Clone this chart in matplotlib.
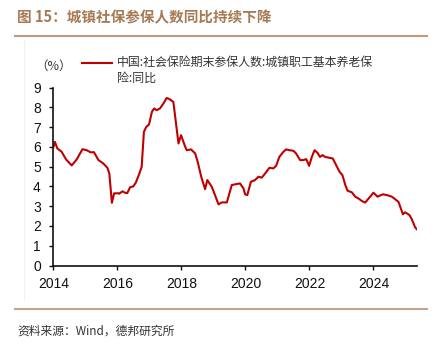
import matplotlib
matplotlib.use("Agg")
import matplotlib.pyplot as plt
from matplotlib.lines import Line2D

plt.rcParams['font.family'] = ['Liberation Sans', 'Noto Sans CJK SC', 'DejaVu Sans']

title = "图 15：城镇社保参保人数同比持续下降"
source = "资料来源：Wind，德邦研究所"
series_name = "中国:社会保险期末参保人数:城镇职工基本养老保\n险:同比"
unit_label = "（%）"

dates = [2014.00, 2014.05, 2014.125, 2014.26, 2014.40, 2014.575, 2014.73, 2014.91,
         2015.04, 2015.17, 2015.27, 2015.41, 2015.56, 2015.69, 2015.75, 2015.83,
         2015.90, 2016.03, 2016.06, 2016.16, 2016.24, 2016.31, 2016.40, 2016.50,
         2016.58, 2016.69, 2016.76, 2016.83, 2016.90, 2016.99, 2017.08, 2017.15,
         2017.23, 2017.33, 2017.44, 2017.54, 2017.63, 2017.75, 2017.91, 2017.99,
         2018.12, 2018.17, 2018.30, 2018.43, 2018.51, 2018.62, 2018.74, 2018.81,
         2018.95, 2019.05, 2019.16, 2019.26, 2019.42, 2019.575, 2019.73, 2019.83,
         2019.94, 2019.99, 2020.06, 2020.17, 2020.30, 2020.41, 2020.51, 2020.62,
         2020.75, 2020.875, 2020.96, 2021.06, 2021.17, 2021.27, 2021.375, 2021.50,
         2021.58, 2021.71, 2021.81, 2021.90, 2021.99, 2022.075, 2022.16, 2022.25,
         2022.33, 2022.41, 2022.49, 2022.73, 2022.86, 2022.94, 2023.03, 2023.12,
         2023.19, 2023.325, 2023.43, 2023.53, 2023.64, 2023.74, 2023.875, 2024.00,
         2024.125, 2024.29, 2024.42, 2024.575, 2024.71, 2024.78, 2024.92, 2024.99,
         2025.125, 2025.20, 2025.30, 2025.35]
values = [5.97, 6.25, 5.92, 5.75, 5.36, 5.06, 5.36, 5.88,
          5.83, 5.72, 5.73, 5.33, 5.16, 4.94, 4.65, 3.17,
          3.65, 3.65, 3.63, 3.75, 3.68, 3.66, 3.96, 4.00,
          4.20, 4.66, 4.99, 6.76, 7.00, 7.13, 7.77, 7.94,
          7.85, 7.94, 8.19, 8.47, 8.41, 8.27, 6.17, 6.59,
          6.00, 5.83, 5.87, 5.67, 5.24, 4.49, 3.86, 4.32,
          3.98, 3.56, 3.09, 3.19, 3.19, 4.07, 4.12, 4.15,
          3.90, 3.60, 3.56, 4.23, 4.32, 4.49, 4.44, 4.66,
          4.94, 4.91, 5.04, 5.49, 5.72, 5.87, 5.83, 5.80,
          5.67, 5.33, 5.33, 5.38, 5.04, 5.49, 5.83, 5.70,
          5.49, 5.58, 5.49, 5.41, 4.99, 4.74, 4.57, 4.07,
          3.78, 3.70, 3.48, 3.39, 3.26, 3.18, 3.44, 3.68,
          3.48, 3.60, 3.56, 3.48, 3.31, 3.22, 2.59, 2.69,
          2.55, 2.33, 1.93, 1.84]

xticks = [2014, 2016, 2018, 2020, 2022, 2024]
yticks = [0, 1, 2, 3, 4, 5, 6, 7, 8, 9]

W, H = 434, 347
fig = plt.figure(figsize=(W / 100, H / 100), dpi=100)

brown = '#a57a55'
line_col = '#c00000'
txt_col = '#333333'

# title & rules
fig.text(17 / W, 1 - 17 / H, title, fontsize=10.5, fontweight='bold', color=brown,
         family=['Noto Sans CJK SC', 'DejaVu Sans'], va='center', ha='left')
fig.add_artist(Line2D([15 / W, 427 / W], [1 - 36 / H, 1 - 36 / H], color='#c09a7a', lw=1.5))
fig.add_artist(Line2D([15 / W, 427 / W], [1 - 309 / H, 1 - 309 / H], color='#c0a590', lw=1.5))
fig.add_artist(Line2D([24 / W, 24 / W], [1 - 40 / H, 1 - 300 / H], color='#f0f0f0', lw=0.6))
fig.text(17 / W, 1 - 331 / H, source, fontsize=8.5, color=txt_col,
         family=['Noto Sans CJK SC', 'DejaVu Sans'], va='center', ha='left')

left, right = 53.3 / W, 416.7 / W
bottom, top = 1 - 265.5 / H, 1 - 87.5 / H
ax = fig.add_axes([left, bottom, right - left, top - bottom])
ax.plot(dates, values, color=line_col, lw=1.5, label=series_name)
ax.set_xlim(2014, 2025.35)
ax.set_ylim(0, 9)
ax.set_xticks(xticks)
ax.set_xticklabels([str(t) for t in xticks])
ax.set_yticks(yticks)
ax.set_yticklabels([str(t) for t in yticks])
for s in ['top', 'right']:
    ax.spines[s].set_visible(False)
for s in ['left', 'bottom']:
    ax.spines[s].set_linewidth(1.2)
    ax.spines[s].set_color('#111111')
ax.tick_params(direction='out', length=3, width=1, labelsize=10, colors='#111111')
ax.tick_params(axis='x', pad=5)
ax.tick_params(axis='y', pad=6)
ax.set_facecolor('none')

fig.text(35 / W, 1 - 66 / H, unit_label, fontsize=9, color=txt_col,
         family=['Noto Sans CJK SC', 'DejaVu Sans'], va='center', ha='left')
fig.add_artist(Line2D([82 / W, 112 / W], [1 - 63 / H, 1 - 63 / H], color=line_col, lw=1.5))
fig.text(117 / W, 1 - 56 / H, series_name, fontsize=8.6, color=txt_col, linespacing=1.25,
         family=['Noto Sans CJK SC', 'DejaVu Sans'], va='top', ha='left')

fig.savefig('out.png', dpi=100)
